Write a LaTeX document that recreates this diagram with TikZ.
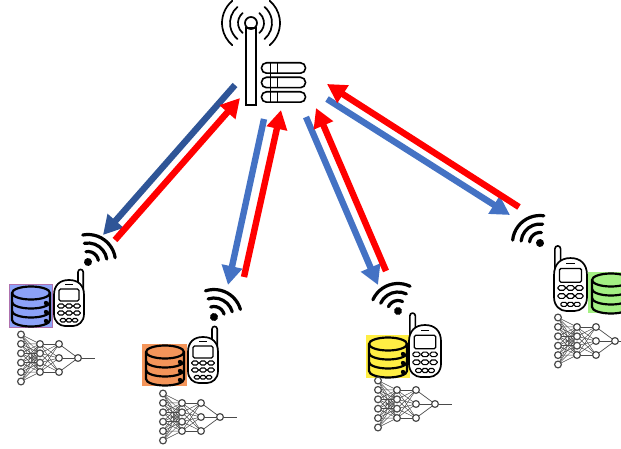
\documentclass[tikz,border=0pt]{standalone}
\usetikzlibrary{arrows.meta}
\definecolor{darkblue}{HTML}{2F5597}
\definecolor{midblue}{HTML}{4472C4}
\definecolor{dbblue}{HTML}{8CA2F8}
\definecolor{dborange}{HTML}{F4955A}
\definecolor{dbyellow}{HTML}{FFEE44}
\definecolor{dbgreen}{HTML}{A4F084}
\definecolor{netgray}{HTML}{4A4A4A}
\tikzset{
  link/.style={line width=6.4pt,-{Triangle[length=19pt,width=20pt]}},
  wifi/.pic={
    \fill (0,0) circle (4);
    \foreach \r in {10.5,19,27.5}
      \draw[line width=3.2pt,line cap=round] (-46:\r) arc (-46:46:\r);
  },
  database/.pic={
    \draw[line width=2.2pt,line join=round] (-19,13) arc (180:0:19 and 6.5) -- (19,-14) arc (0:-180:19 and 6.5) -- cycle;
    \draw[line width=2.2pt] (-19,13) arc (180:360:19 and 6.5);
    \draw[line width=2.2pt] (-19,4) arc (180:360:19 and 6.5);
    \draw[line width=2.2pt] (-19,-5) arc (180:360:19 and 6.5);
    \foreach \y in {6,-3,-12} \fill (15,\y-3) circle (2.2);
  },
  phone/.pic={
    \draw[line width=1.6pt,fill=white,line join=round] (9,18) -- (9,31) arc (180:0:2.6) -- (14.2,10);
    \draw[line width=1.7pt,fill=white] (-15,8) .. controls (-15,18) and (-9,23) .. (0,23) .. controls (9,23) and (15,18) .. (15,8) -- (15,-11) .. controls (15,-19) and (9,-23) .. (4,-23) -- (-4,-23) .. controls (-9,-23) and (-15,-19) .. (-15,-11) -- cycle;
    \draw[line width=1pt] (-4,18.5) -- (4,18.5);
    \draw[line width=1.3pt,rounded corners=1.5pt] (-10,2) rectangle (10,14);
    \foreach \y in {-3,-10} \foreach \x in {-8,0,8}
      \draw[line width=1.1pt,rounded corners=1.8pt] (\x-3.4,\y-2) rectangle (\x+3.4,\y+2);
    \foreach \x in {-6,0,6}
      \draw[line width=1.1pt,rounded corners=1.5pt] (\x-2.8,-19) rectangle (\x+2.8,-15.5);
  },
  network/.pic={
    \begin{scope}[netgray,line width=.5pt]
      \foreach \a in {-23.5,-14.1,-4.7,4.7,14.1,23.5} \foreach \b in {-14,-4.7,4.7,14}
        \draw (0,\a) -- (19,\b);
      \foreach \a in {-14,-4.7,4.7,14} \foreach \b in {-14,0,14}
        \draw (19,\a) -- (38,\b);
      \foreach \b in {-14,0,14} \draw[line width=.7pt] (38,\b) -- (57,0);
      \draw[line width=.8pt] (57,0) -- (74,0);
    \end{scope}
    \begin{scope}[draw=netgray,fill=white,line width=1.2pt]
      \foreach \a in {-23.5,-14.1,-4.7,4.7,14.1,23.5} \filldraw (0,\a) circle (3.4);
      \foreach \b in {-14,-4.7,4.7,14} \filldraw (19,\b) circle (3.4);
      \foreach \b in {-14,0,14} \filldraw (38,\b) circle (3.4);
      \filldraw (57,0) circle (3.4);
    \end{scope}
  },
  tower/.pic={
    \draw[line width=1.7pt,fill=white] (-5,-105) rectangle (5,-28);
    \draw[line width=1.7pt] (0,-23) circle (6);
    \foreach \r in {13,21,29} {
      \draw[line width=1.7pt,line cap=round] (0,-23) ++(-50:\r) arc (-50:50:\r);
      \draw[line width=1.7pt,line cap=round] (0,-23) ++(130:\r) arc (130:230:\r);
    }
  },
  serverstack/.pic={
    \foreach \y in {0,-14.5,-29} {
      \draw[line width=1.6pt,fill=white,rounded corners=5pt] (-22,\y+5.2) rectangle (22,\y-5.2);
      \draw[line width=1.3pt] (-13,\y+5) -- (-13,\y-5) (-6,\y+5) -- (-6,\y-5);
    }
    \draw[line width=1.3pt] (-13,-5) -- (-13,-9.5) (-13,-19.5) -- (-13,-24);
  }
}
\begin{document}
\begin{tikzpicture}[x=1pt,y=1pt]
\useasboundingbox (0,0) rectangle (621,-449);
\fill[white] (0,0) rectangle (621,-449);

\pic at (251,0) {tower};
\pic at (283.5,-68) {serverstack};

% named link ends
\coordinate (baseA) at (235,-85);
\coordinate (baseAr) at (240,-98);
\coordinate (devA) at (103,-235);
\coordinate (devAr) at (115,-240);
\coordinate (baseB) at (264,-119);
\coordinate (baseBr) at (281,-110);
\coordinate (devB) at (228,-285);
\coordinate (devBr) at (244,-277);
\coordinate (baseC) at (306,-117);
\coordinate (baseCr) at (316,-108);
\coordinate (devC) at (378,-285);
\coordinate (devCr) at (386,-271);
\coordinate (baseD) at (327,-99);
\coordinate (baseDr) at (327,-84);
\coordinate (devD) at (510,-215);
\coordinate (devDr) at (519,-207);

\draw[link,draw=darkblue] (baseA) -- (devA);
\draw[link,draw=red] (devAr) -- (baseAr);
\draw[link,draw=midblue] (baseB) -- (devB);
\draw[link,draw=red] (devBr) -- (baseBr);
\draw[link,draw=midblue] (baseC) -- (devC);
\draw[link,draw=red] (devCr) -- (baseCr);
\draw[link,draw=midblue] (baseD) -- (devD);
\draw[link,draw=red] (devDr) -- (baseDr);

% device 1
\pic[rotate=55] at (88,-262) {wifi};
\node[fill=dbblue,draw=dbblue!70!red,line width=.5pt,minimum width=43pt,minimum height=43pt,inner sep=0pt] (dbA) at (30.5,-305.5) {};
\pic at (31,-306) {database};
\pic at (69,-303) {phone};
\pic at (21,-358) {network};

% device 2
\pic[rotate=62] at (214,-317) {wifi};
\node[fill=dborange,minimum width=45pt,minimum height=42pt,inner sep=0pt] (dbB) at (164.5,-365) {};
\pic at (165,-365) {database};
\pic at (203,-360) {phone};
\pic at (163,-417) {network};

% device 3
\pic[rotate=110] at (398,-311) {wifi};
\node[fill=dbyellow,minimum width=44pt,minimum height=43pt,inner sep=0pt] (dbC) at (388,-356.5) {};
\pic at (388,-357) {database};
\pic[xscale=-1.07,yscale=1.13] at (425,-351) {phone};
\pic at (378,-404) {network};

% device 4
\pic[rotate=128] at (540,-243) {wifi};
\node[fill=dbgreen,minimum width=33pt,minimum height=41pt,inner sep=0pt] (dbD) at (604.5,-292.5) {};
\pic at (611,-293) {database};
\pic[xscale=-1.1,yscale=1.15] at (570.5,-284.5) {phone};
\pic at (558,-341) {network};
\end{tikzpicture}
\end{document}
